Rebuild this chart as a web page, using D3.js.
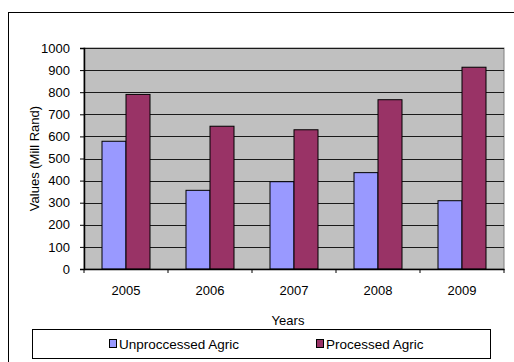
<!DOCTYPE html>
<html>
<head>
<meta charset="utf-8">
<script src="https://cdn.jsdelivr.net/npm/d3@7"></script>
<style>
  html, body { margin: 0; padding: 0; background: #fff; }
  svg { display: block; font-family: "Liberation Sans", Arial, sans-serif; }
</style>
</head>
<body>
<svg id="chart" width="514" height="362"></svg>
<script>
// Agricultural export values, million Rand
const years = ["2005", "2006", "2007", "2008", "2009"];
const seriesNames = ["Unproccessed Agric", "Processed Agric"];
const unprocessed = [578, 356, 395, 436, 309];
const processed = [790, 646, 630, 766, 913];
const yTicks = [0, 100, 200, 300, 400, 500, 600, 700, 800, 900, 1000];
const colors = ["#9999ff", "#993366"];

const svg = d3.select("#chart");
const margin = { left: 84, right: 504, top: 48, bottom: 269 };

// Outer frame (runs off the right and bottom edges)
svg.append("rect")
  .attr("x", 8.5).attr("y", 12.5)
  .attr("width", 520).attr("height", 360)
  .attr("fill", "#fff").attr("stroke", "#000").attr("stroke-width", 1);

const x = d3.scaleBand().domain(years).range([margin.left, margin.right]).paddingInner(0).paddingOuter(0);
const y = d3.scaleLinear().domain([0, 1000]).range([margin.bottom, margin.top]);

// Plot background
svg.append("rect")
  .attr("x", margin.left).attr("y", margin.top)
  .attr("width", margin.right - margin.left).attr("height", margin.bottom - margin.top)
  .attr("fill", "#c0c0c0").attr("stroke", "#808080").attr("stroke-width", 1);

// Gridlines
svg.append("g").selectAll("line").data(yTicks.filter(d => d > 0))
  .join("line")
  .attr("x1", margin.left).attr("x2", margin.right)
  .attr("y1", d => Math.round(y(d)) + 0.5).attr("y2", d => Math.round(y(d)) + 0.5)
  .attr("stroke", "#1a1a1a").attr("stroke-width", 1);

// Bars
const data = years.map((yr, i) => ({ year: yr, values: [unprocessed[i], processed[i]] }));
const inner = d3.scaleBand().domain([0, 1]).range([0, x.bandwidth()]).paddingOuter(0.75).paddingInner(0);

const groups = svg.append("g").selectAll("g").data(data).join("g")
  .attr("transform", d => `translate(${x(d.year)},0)`);
groups.selectAll("rect").data(d => d.values.map((v, k) => ({ v, k })))
  .join("rect")
  .attr("x", d => inner(d.k))
  .attr("y", d => y(d.v))
  .attr("width", inner.bandwidth())
  .attr("height", d => y(0) - y(d.v))
  .attr("fill", d => colors[d.k])
  .attr("stroke", "#000").attr("stroke-width", 1);

// Y axis
const yAxis = svg.append("g")
  .attr("transform", `translate(${margin.left},0)`)
  .call(d3.axisLeft(y).tickValues(yTicks).tickFormat(d3.format("d")).tickSize(4).tickPadding(10));
yAxis.select(".domain").attr("stroke", "#000").attr("stroke-width", 1.5);
yAxis.selectAll(".tick line").attr("stroke", "#000");
yAxis.selectAll(".tick text").attr("font-size", 13).attr("fill", "#000")
  .attr("font-family", "'Liberation Sans', Arial, sans-serif");

// X axis
const xTickPos = years.map(d => x(d)).concat([margin.right]);
const xAxis = svg.append("g")
  .attr("transform", `translate(0,${margin.bottom})`)
  .call(d3.axisBottom(x).tickSize(0).tickPadding(17));
xAxis.select(".domain").attr("stroke", "#000").attr("stroke-width", 1.5);
xAxis.selectAll(".tick text").attr("font-size", 13).attr("fill", "#000")
  .attr("font-family", "'Liberation Sans', Arial, sans-serif");
xAxis.append("g").selectAll("line").data(xTickPos).join("line")
  .attr("x1", d => d).attr("x2", d => d).attr("y1", 0).attr("y2", 4)
  .attr("stroke", "#000");

// Axis titles
svg.append("text")
  .attr("x", 288).attr("y", 325)
  .attr("text-anchor", "middle").attr("font-size", 13).text("Years");
svg.append("text")
  .attr("transform", `translate(39,${(margin.top + margin.bottom) / 2}) rotate(-90)`)
  .attr("text-anchor", "middle").attr("font-size", 13).text("Values (Mill Rand)");

// Legend
const legend = svg.append("g");
legend.append("rect")
  .attr("x", 32.5).attr("y", 329.5).attr("width", 458).attr("height", 29)
  .attr("fill", "#fff").attr("stroke", "#000");
const legendX = [109, 316];
seriesNames.forEach((name, k) => {
  legend.append("rect")
    .attr("x", legendX[k] + 0.5).attr("y", 339.5).attr("width", 7).attr("height", 8)
    .attr("fill", colors[k]).attr("stroke", "#000");
  legend.append("text")
    .attr("x", legendX[k] + 10).attr("y", 348.5)
    .attr("font-size", 13.5).text(name);
});
</script>
</body>
</html>
